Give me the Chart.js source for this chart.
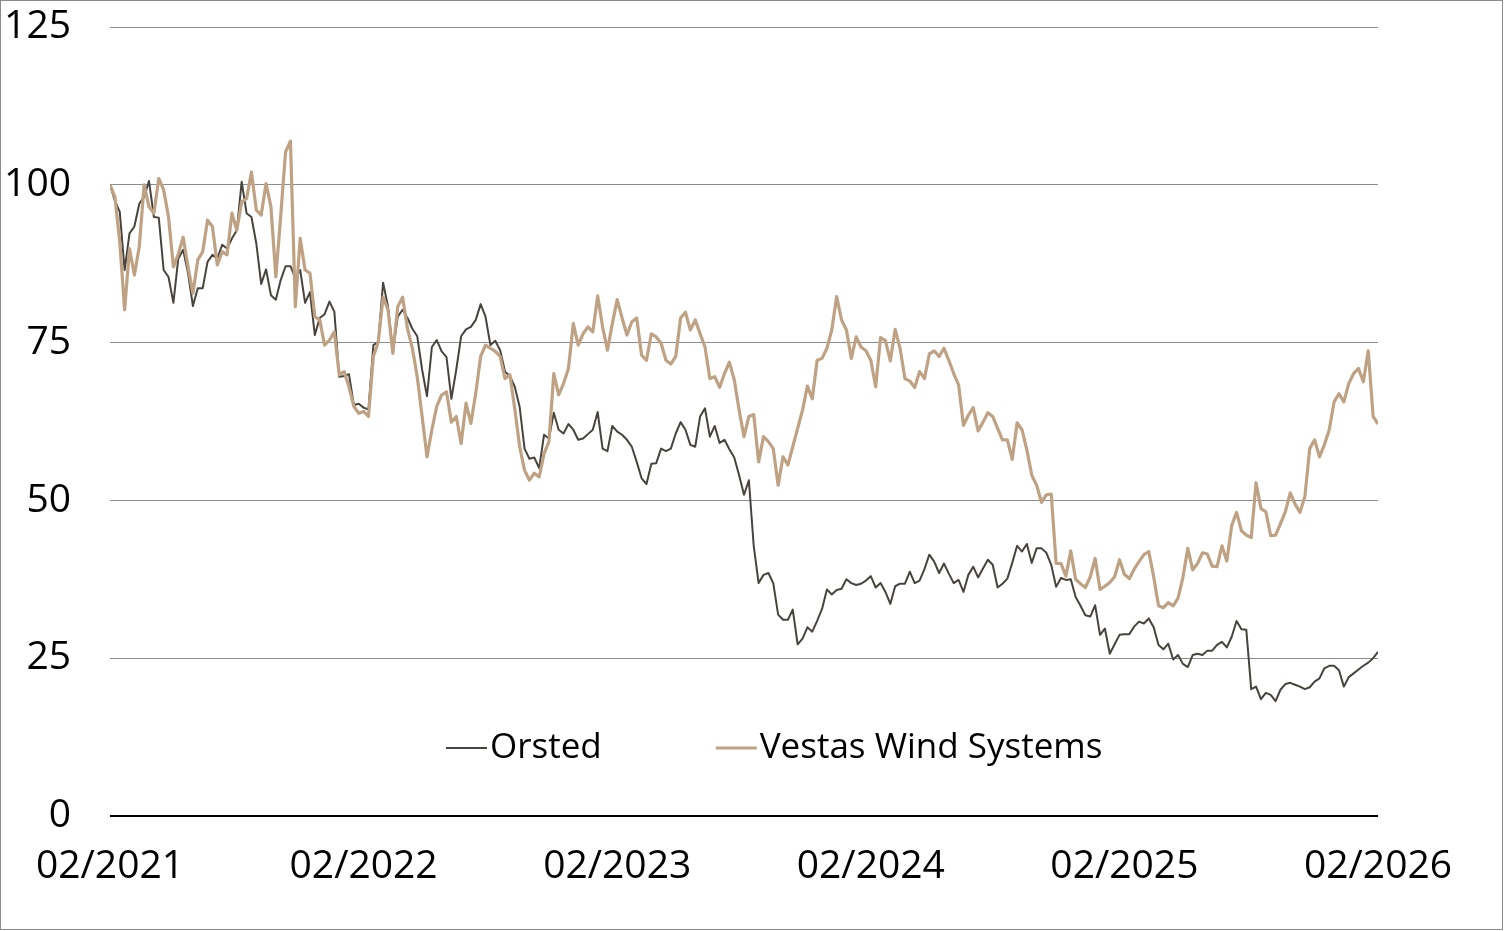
<!DOCTYPE html>
<html>
<head>
<meta charset="utf-8">
<script src="https://cdn.jsdelivr.net/npm/chart.js@4.4.1/dist/chart.umd.min.js"></script>
<style>
  html, body { margin: 0; padding: 0; background: #fff; }
  #wrap { position: relative; width: 1504px; height: 931px; }
  #frame { position: absolute; left: 0; top: 0; width: 1503px; height: 930px; box-sizing: border-box; border: 1px solid #8c8c8c; pointer-events: none; }
</style>
</head>
<body>
<div id="wrap">
  <canvas id="chart" width="1504" height="931"></canvas>
  <div id="frame"></div>
</div>
<script>
// weekly index values, 02/2021 = 100
const seriesNames = ['Orsted', 'Vestas Wind Systems'];
const seriesColors = ['#48443d', '#bfa283'];
const tickLabels = ['02/2021', '02/2022', '02/2023', '02/2024', '02/2025', '02/2026'];
const yTicks = [0, 25, 50, 75, 100, 125];

const orsted = [
  100, 97.5, 95.7, 86.5, 92.3, 93.4, 97.0, 98.1, 100.6, 94.9,
  94.8, 86.5, 85.4, 81.3, 88.3, 89.7, 86.0, 80.8, 83.6, 83.6,
  87.8, 88.9, 88.3, 90.5, 89.9, 91.5, 92.8, 100.5, 95.5, 94.9,
  90.7, 84.3, 86.6, 82.5, 81.8, 84.9, 87.1, 87.1, 85.2, 86.5,
  81.3, 83.0, 76.2, 78.9, 79.5, 81.5, 79.9, 69.6, 69.7, 70.0,
  65.1, 65.3, 64.7, 64.4, 74.6, 75.1, 84.5, 80.7, 73.6, 79.1,
  80.2, 78.9, 77.2, 76.0, 70.7, 66.5, 74.3, 75.4, 73.6, 72.7,
  66.1, 70.7, 76.0, 77.1, 77.5, 78.6, 81.1, 79.1, 74.6, 75.3,
  73.8, 70.4, 69.7, 68.0, 64.8, 58.2, 56.6, 56.8, 55.1, 60.4,
  59.8, 63.9, 61.2, 60.6, 62.1, 61.2, 59.6, 59.8, 60.5, 61.2,
  64.0, 58.2, 57.8, 61.8, 60.9, 60.4, 59.6, 58.5, 56.1, 53.5,
  52.6, 55.8, 55.9, 58.2, 57.8, 58.2, 60.6, 62.4, 61.2, 58.8,
  58.5, 63.3, 64.6, 60.1, 61.8, 59.1, 59.6, 58.1, 56.8, 54.0,
  50.9, 53.2, 42.7, 36.9, 38.2, 38.5, 36.9, 31.9, 31.1, 31.1,
  32.7, 27.2, 28.1, 29.9, 29.2, 30.9, 32.8, 35.9, 35.1, 35.8,
  36.0, 37.5, 36.9, 36.6, 36.8, 37.3, 38.0, 36.2, 36.9, 35.5,
  33.6, 36.4, 36.8, 36.8, 38.7, 36.9, 37.3, 39.1, 41.4, 40.3,
  38.5, 40.0, 38.4, 36.9, 37.4, 35.5, 38.2, 39.5, 37.8, 39.2,
  40.6, 39.8, 36.2, 36.8, 37.6, 40.1, 42.8, 41.9, 43.1, 40.1,
  42.4, 42.4, 41.7, 39.8, 36.3, 37.7, 37.4, 37.5, 34.7, 33.3,
  31.8, 31.6, 33.4, 28.7, 29.7, 25.7, 27.2, 28.7, 28.8, 28.8,
  30.0, 30.8, 30.5, 31.3, 29.9, 27.1, 26.4, 27.3, 24.8, 25.5,
  24.1, 23.6, 25.5, 25.7, 25.5, 26.2, 26.2, 27.1, 27.6, 26.7,
  28.4, 30.9, 29.6, 29.5, 20.1, 20.5, 18.5, 19.5, 19.2, 18.2,
  20.0, 20.9, 21.1, 20.8, 20.5, 20.1, 20.4, 21.3, 21.8, 23.4,
  23.8, 23.8, 23.1, 20.5, 22.0, 22.6, 23.2, 23.8, 24.3, 25.0,
  26.0
];

const vestas = [
  100, 98.1, 91, 80.2, 89.9, 85.7, 90.2, 100, 96.5, 95.5,
  101, 99.2, 94.9, 87, 89, 91.7, 87, 82.8, 88.1, 89.4,
  94.4, 93.4, 87.3, 89.4, 88.9, 95.5, 92.8, 97.3, 97.8, 102,
  96, 95.2, 100.2, 96.5, 85.4, 95, 105.2, 106.9, 80.7, 91.5,
  86.5, 86, 79.1, 78.6, 74.6, 75.4, 76.7, 69.9, 70.4, 68,
  64.9, 63.8, 64.1, 63.3, 72.8, 75.1, 82.2, 80.2, 73.3, 80.7,
  82.2, 77.2, 74.1, 69.6, 63.3, 56.9, 61.2, 64.9, 66.7, 67.2,
  62.4, 63.3, 59.0, 65.4, 62.2, 67.0, 72.8, 74.6, 74.1, 73.6,
  72.8, 69.3, 69.9, 64.5, 58.5, 54.8, 53.2, 54.3, 53.7, 57.4,
  59.3, 70.1, 66.7, 68.5, 70.9, 78.0, 74.6, 76.4, 77.5, 76.7,
  82.4, 77.5, 73.8, 78.0, 81.8, 78.9, 76.2, 78.3, 78.9, 73.0,
  72.2, 76.4, 75.9, 74.9, 72.2, 71.6, 72.8, 78.9, 79.8, 77.0,
  78.6, 76.4, 74.3, 69.3, 69.6, 67.9, 70.1, 71.9, 69.1, 64.3,
  60.1, 63.3, 63.6, 56.1, 60.1, 59.3, 58.2, 52.4, 56.9, 55.6,
  58.5, 61.4, 64.3, 68.1, 66.1, 72.2, 72.5, 74.1, 77.0, 82.3,
  78.6, 77.0, 72.5, 75.9, 74.3, 73.7, 72.2, 68.0, 75.8, 75.3,
  72.1, 77.1, 74.1, 69.3, 68.9, 67.9, 70.4, 69.3, 73.2, 73.7,
  72.8, 74.1, 72.2, 70.1, 68.3, 61.9, 63.5, 64.7, 61.0, 62.4,
  63.9, 63.3, 61.4, 59.6, 59.6, 56.5, 62.3, 61.2, 58.0, 54.0,
  52.4, 49.7, 50.9, 51.0, 40.0, 40.0, 38.0, 42.0, 37.5, 36.8,
  36.2, 37.9, 40.8, 35.9, 36.4, 37.0, 37.9, 40.6, 38.3, 37.6,
  39.1, 40.3, 41.4, 41.9, 37.9, 33.3, 33.0, 33.8, 33.3, 34.5,
  37.8, 42.4, 39.0, 40.0, 41.7, 41.5, 39.6, 39.5, 42.8, 40.4,
  46.0, 48.1, 45.2, 44.5, 44.1, 52.8, 48.7, 48.2, 44.4, 44.5,
  46.3, 48.2, 51.2, 49.4, 48.1, 50.6, 58.2, 59.6, 56.9, 58.8,
  61.2, 65.6, 66.9, 65.6, 68.5, 70.1, 70.9, 68.8, 73.7, 63.3,
  62.1
];

const weeksPerYear = 52;

// pick a narrow sans if it is installed, otherwise a regular one with smaller sizes
function hasFont(name) {
  const ctx = document.createElement('canvas').getContext('2d');
  ctx.font = '40px monospace';
  const base = ctx.measureText('Vestas Wind 0123').width;
  ctx.font = '40px "' + name + '", monospace';
  return ctx.measureText('Vestas Wind 0123').width !== base;
}
const narrow = hasFont('Liberation Sans Narrow');
const family = narrow ? '"Liberation Sans Narrow", "Open Sans", sans-serif' : '"Open Sans", sans-serif';
const tickSize = narrow ? 46 : 39;
const legendSize = narrow ? 43 : 35;

const toPoints = (values) => values.map((v, i) => ({ x: i, y: v }));

const legendInside = {
  id: 'legendInside',
  afterDatasetsDraw(chart, args, opts) {
    const { ctx, chartArea } = chart;
    let x = chartArea.left + opts.offsetX;
    const y = chartArea.bottom - opts.offsetY;
    ctx.save();
    ctx.font = legendSize + 'px ' + family;
    ctx.textBaseline = 'middle';
    ctx.textAlign = 'left';
    seriesNames.forEach((name, i) => {
      ctx.strokeStyle = seriesColors[i];
      ctx.lineWidth = opts.lineWidths[i];
      ctx.beginPath();
      ctx.moveTo(x, y);
      ctx.lineTo(x + opts.lineLength, y);
      ctx.stroke();
      x += opts.lineLength + opts.textGap;
      ctx.fillStyle = '#000';
      ctx.fillText(name, x, y);
      x += ctx.measureText(name).width + opts.itemGap;
    });
    ctx.restore();
  }
};

new Chart(document.getElementById('chart'), {
  type: 'line',
  data: {
    datasets: [
      {
        label: seriesNames[0],
        data: toPoints(orsted),
        borderColor: seriesColors[0],
        borderWidth: 2,
        order: 1
      },
      {
        label: seriesNames[1],
        data: toPoints(vestas),
        borderColor: seriesColors[1],
        borderWidth: 3.2,
        order: 0
      }
    ]
  },
  options: {
    responsive: false,
    animation: false,
    devicePixelRatio: 1,
    layout: { padding: { top: 27, right: 126, bottom: 0, left: 0 } },
    elements: {
      point: { radius: 0 },
      line: { tension: 0, borderJoinStyle: 'round' }
    },
    plugins: {
      legend: { display: false },
      tooltip: { enabled: false },
      legendInside: { offsetX: 336, offsetY: 68, lineLength: 41, textGap: 3, itemGap: 114, lineWidths: [2, 3] }
    },
    scales: {
      x: {
        type: 'linear',
        min: 0,
        max: weeksPerYear * (tickLabels.length - 1),
        afterBuildTicks: (scale) => {
          scale.ticks = tickLabels.map((_, k) => ({ value: k * weeksPerYear }));
        },
        afterFit: (scale) => { scale.height = 115; },
        grid: { display: false, drawTicks: false },
        border: { display: false },
        ticks: {
          autoSkip: false,
          maxRotation: 0,
          padding: 27,
          color: '#000',
          font: { family: family, size: tickSize },
          callback: (value, index) => tickLabels[index]
        }
      },
      y: {
        min: 0,
        max: 125,
        afterBuildTicks: (scale) => {
          scale.ticks = yTicks.map((v) => ({ value: v }));
        },
        afterFit: (scale) => {
          scale.width = 110;
          // keep the tick padding from pushing the plot down
          scale.paddingTop = 20;
          scale.paddingBottom = 20;
        },
        grid: {
          drawTicks: false,
          color: (c) => c.tick.value === 0 ? '#000' : '#8c8c8c',
          lineWidth: (c) => c.tick.value === 0 ? 2 : 1
        },
        border: { display: false },
        ticks: {
          padding: 39,
          color: '#000',
          font: { family: family, size: tickSize }
        }
      }
    }
  },
  plugins: [legendInside]
});
</script>
</body>
</html>
